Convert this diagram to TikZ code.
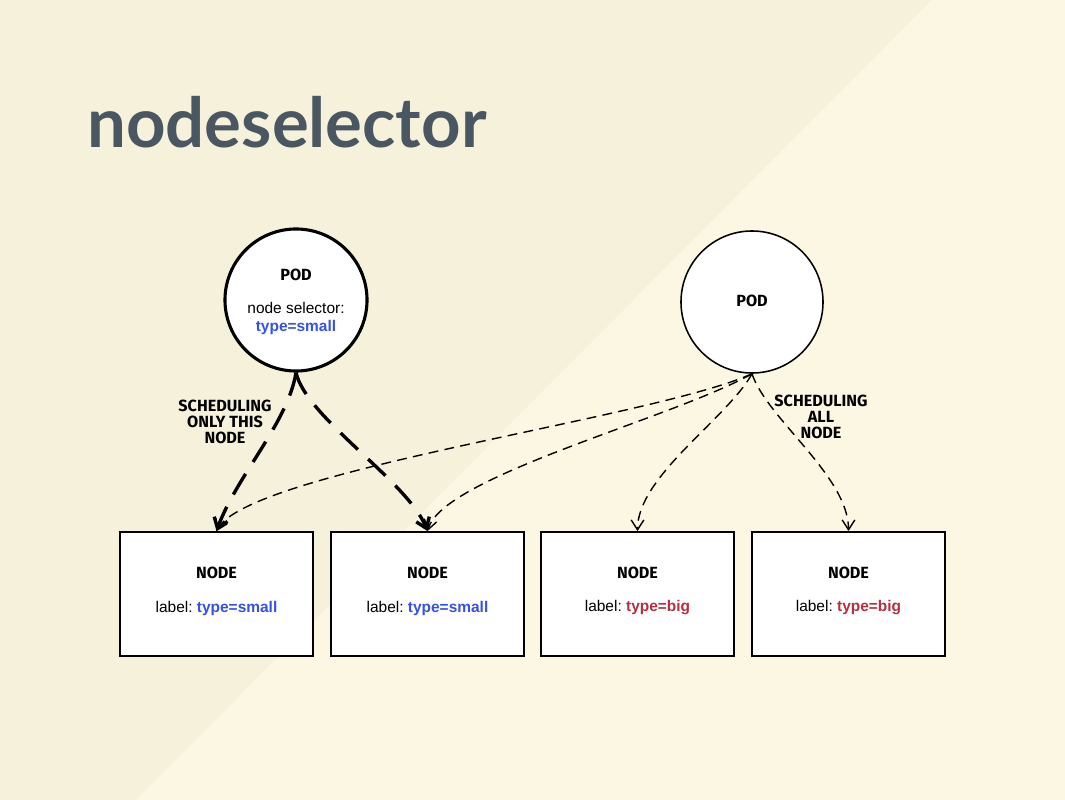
\documentclass[tikz,border=0pt]{standalone}
\usepackage{fontspec}
\setmainfont{Liberation Sans}
\newfontfamily\titlefont{Lato}
\newfontfamily\handfont{Fira Sans}
\usetikzlibrary{arrows.meta}
\definecolor{bgdark}{HTML}{F5F1DB}
\definecolor{bglight}{HTML}{FBF7E3}
\definecolor{titlegray}{HTML}{4A5661}
\definecolor{smallblue}{HTML}{3452E8}
\definecolor{bigred}{HTML}{B3303F}
\frenchspacing
\begin{document}
\begin{tikzpicture}[x=0.025cm,y=-0.025cm,
  pod/.style={circle,draw,fill=white,minimum size=3.55cm,inner sep=0pt},
  box/.style={draw,fill=white,line width=1.3pt,minimum width=4.825cm,minimum height=3.1cm},
  hand/.style={font=\handfont\bfseries\fontsize{11.5}{11.6}\selectfont,align=center},
  txt/.style={font=\fontsize{11}{12.8}\selectfont,align=center},
  bigdash/.style={line width=2.4pt,dash pattern=on 17pt off 10pt,-{Straight Barb[length=7pt,width=10pt]}},
  smalldash/.style={line width=1pt,dash pattern=on 7pt off 4.5pt,-{Straight Barb[length=7pt,width=9pt]}}]
% background
\fill[bgdark] (0,0) rectangle (1065,800);
\fill[bglight] (932,0) -- (1065,0) -- (1065,800) -- (136,800) -- cycle;
\useasboundingbox (0,0) rectangle (1065,800);
% title
\node[anchor=base west,inner sep=0pt,text=titlegray,font=\titlefont\bfseries\fontsize{49}{55}\selectfont] (title) at (87,148) {nodeselector};
% pods
\node[pod,line width=2.2pt] (lpod) at (296,300) {};
\node[pod,line width=1.1pt] (rpod) at (752,302) {};
\node[hand] (lpodname) at (296,275) {POD};
\node[txt] (lpodsel) at (296,319) {node selector:\\\textcolor{smallblue}{\bfseries type=small}};
\node[hand] (rpodname) at (752,301) {POD};
% nodes
\foreach \i/\x/\t/\c in {1/216.5/small/smallblue,2/427.5/small/smallblue,3/637.5/big/bigred,4/848.5/big/bigred}{
  \node[box] (n\i) at (\x,594) {};
  \node[hand] (n\i name) at (\x,573) {NODE};
  \node[txt] (n\i label) at (\x,608) {label: \textcolor{\c}{\bfseries type=\t}};
}
% scheduling
\draw[bigdash] (lpod.south) .. controls +(-8,50) and +(20,-55) .. (n1.north);
\draw[bigdash] (lpod.south) .. controls +(10,45) and +(-20,-50) .. (n2.north);
\draw[smalldash] (rpod.south) .. controls +(-100,45) and +(30,-60) .. (n1.north);
\draw[smalldash] (rpod.south) .. controls +(-80,45) and +(15,-55) .. (n2.north);
\draw[smalldash] (rpod.south) .. controls +(-25,45) and +(0,-55) .. (n3.north);
\draw[smalldash] (rpod.south) .. controls +(15,45) and +(0,-55) .. (n4.north);
\node[hand] (lnote) at (225,422) {SCHEDULING\\ONLY THIS\\NODE};
\node[hand] (rnote) at (821,417) {SCHEDULING\\ALL\\NODE};
\end{tikzpicture}
\end{document}
